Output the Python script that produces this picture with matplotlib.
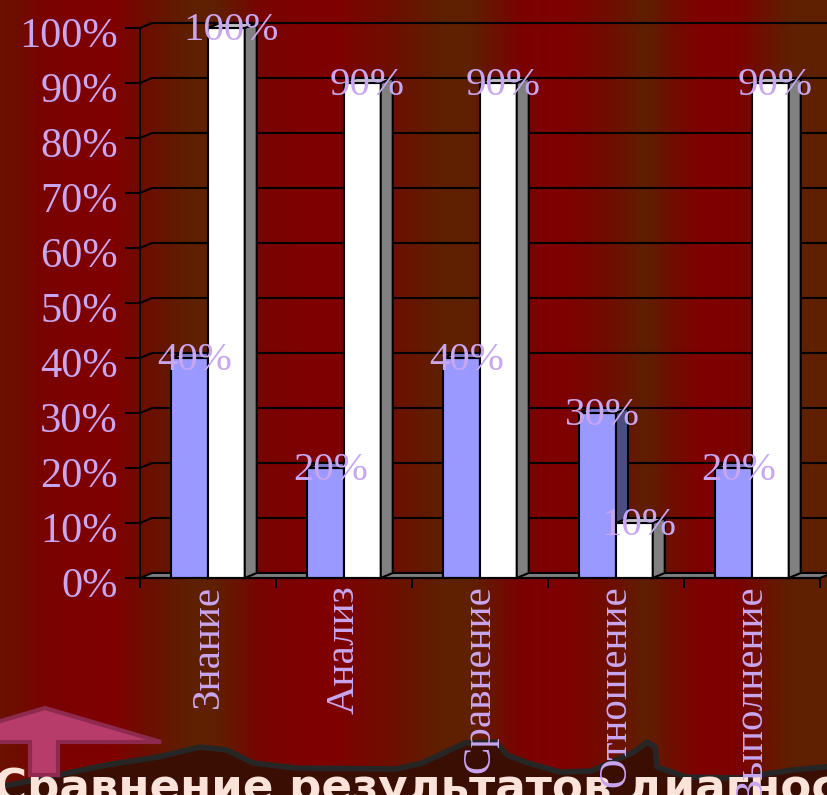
import matplotlib
matplotlib.use('Agg')
import matplotlib.pyplot as plt
import matplotlib.transforms as mtransforms
import numpy as np
from matplotlib.patches import Polygon
from matplotlib.colors import to_rgb

# ---------------- data ----------------
categories = ['Знание', 'Анализ', 'Сравнение', 'Отношение', 'Выполнение']
series_before = [40, 20, 40, 30, 20]
series_after = [100, 90, 90, 10, 90]
yticks = [0, 10, 20, 30, 40, 50, 60, 70, 80, 90, 100]
ytick_labels = [f'{v}%' for v in yticks]
title_text = 'Сравнение результатов диагностики'

# ---------------- style ----------------
W, H = 828, 795
LAV = '#C9A6F0'
SERIF = 'Liberation Serif'
BLUE, BLUE_SIDE, BLUE_TOP = '#9999FF', '#4D4D80', '#7A7AC8'
WHITE, WHITE_SIDE, WHITE_TOP = '#FFFFFF', '#808080', '#C0C0C0'
DX, DY = 12, 5          # 3-D depth in pixels
BW = 0.27               # bar width (category units)

fig = plt.figure(figsize=(W / 100, H / 100), dpi=100)

# background with vertical stripes
bg = fig.add_axes([0, 0, 1, 1], zorder=-10)
stops = [(0, '#6A1200'), (40, '#780400'), (110, '#800000'), (150, '#6A1000'),
         (190, '#5E2000'), (215, '#5E2000'), (260, '#780400'), (330, '#800000'),
         (400, '#6A1200'), (440, '#5E2000'), (470, '#5E2000'), (520, '#7A0200'),
         (560, '#800000'), (610, '#6E0E00'), (645, '#5E2000'), (665, '#6A1200'),
         (700, '#800000'), (740, '#7A0400'), (790, '#5E2000'), (828, '#5E2000')]
xs = np.arange(W)
pos = [p for p, _ in stops]
cols = np.array([to_rgb(c) for _, c in stops])
img = np.stack([np.interp(xs, pos, cols[:, k]) for k in range(3)], axis=-1)[None, :, :]
bg.imshow(img, aspect='auto', extent=[0, W, 0, H])
bg.set_axis_off()

# decorations (hill, arrow, title) in pixel coordinates
deco = fig.add_axes([0, 0, 1, 1], zorder=-5)
deco.set_xlim(0, W)
deco.set_ylim(H, 0)
deco.set_axis_off()
hill = [(0, 787), (106, 765), (158, 757), (200, 747), (227, 750), (253, 763),
        (296, 768), (396, 769), (422, 763), (465, 743), (496, 742), (507, 755),
        (528, 763), (560, 772), (591, 771), (634, 752), (647, 742), (655, 747),
        (657, 767), (686, 777), (739, 778), (792, 770), (835, 766),
        (835, 800), (-5, 800)]
deco.add_patch(Polygon(hill, closed=True, fc='#3A0E03', ec='#262626', lw=4, joinstyle='round'))
arrow = [(-71, 742), (45, 708), (161, 742), (58, 742), (58, 775), (30, 775), (30, 742)]
deco.add_patch(Polygon(arrow, closed=True, fc='#B83C6A', ec='#8E2A4E', lw=3))
deco.text(-6, 801, title_text, fontsize=32.5, weight='bold', color='#FBE3D9',
          family='DejaVu Sans', ha='left', va='baseline')

# main chart
ax = fig.add_axes([140 / W, (H - 578) / H, 680 / W, 550 / H])
ax.set_xlim(-0.5, 4.5)
ax.set_ylim(0, 100)
ax.patch.set_visible(False)
for s in ['top', 'right']:
    ax.spines[s].set_visible(False)
for s in ['left', 'bottom']:
    ax.spines[s].set_color('black')
    ax.spines[s].set_linewidth(1.5)
    ax.spines[s].set_zorder(6)


def shift(x, y, dx=DX, dy=DY):
    p = ax.transData.transform((x, y))
    return tuple(ax.transData.inverted().transform((p[0] + dx, p[1] + dy)))


# gridlines on back wall
for v in yticks[1:]:
    pts = [(-0.5, v), shift(-0.5, v), shift(4.6, v)]
    ax.plot(*zip(*pts), color='black', lw=1.5, zorder=1, clip_on=False, solid_capstyle='butt')

# floor
floor = [(-0.5, 0), (4.5, 0), shift(4.5, 0), shift(-0.5, 0)]
ax.add_patch(Polygon(floor, closed=True, fc='#808080', ec='black', lw=1.5, zorder=2, clip_on=False))

x = np.arange(len(categories))


def bars3d(xc, vals, front, side, top, z):
    ax.bar(xc, vals, BW, color=front, edgecolor='black', lw=1.5, zorder=z)
    for xi, v in zip(xc, vals):
        x0, x1 = xi - BW / 2, xi + BW / 2
        ax.add_patch(Polygon([(x1, 0), (x1, v), shift(x1, v), shift(x1, 0)], closed=True,
                             fc=side, ec='black', lw=1.5, zorder=z + 0.5, clip_on=False))
        ax.add_patch(Polygon([(x0, v), (x1, v), shift(x1, v), shift(x0, v)], closed=True,
                             fc=top, ec='black', lw=1.5, zorder=z + 0.5, clip_on=False))


bars3d(x - BW / 2, series_before, BLUE, BLUE_SIDE, BLUE_TOP, 3)
bars3d(x + BW / 2, series_after, WHITE, WHITE_SIDE, WHITE_TOP, 4)

for xc, vals in [(x - BW / 2, series_before), (x + BW / 2, series_after)]:
    for xi, v in zip(xc, vals):
        ax.annotate(f'{v}%', (xi, v), xytext=(5, -12), textcoords='offset pixels',
                    ha='center', va='baseline', fontsize=29.5, color=LAV, family=SERIF,
                    zorder=10, annotation_clip=False)

ax.set_yticks(yticks, ytick_labels)
ax.tick_params(axis='y', length=10.8, width=1.5, color='black', pad=5,
               labelsize=30.5, labelcolor=LAV, direction='out')
ydown = mtransforms.ScaledTranslation(0, -3 / 72, fig.dpi_scale_trans)
for t in ax.get_yticklabels():
    t.set_family(SERIF)
    t.set_transform(t.get_transform() + ydown)

ax.set_xticks(x, categories, rotation=90)
ax.set_xticks(np.arange(-0.5, 5, 1), minor=True)
ax.tick_params(axis='x', which='major', length=0, pad=5, labelsize=29.5, labelcolor=LAV)
ax.tick_params(axis='x', which='minor', length=7.5, width=1.5, color='black', direction='out')
for t in ax.get_xticklabels():
    t.set_family(SERIF)
    t.set_va('top')

fig.savefig('out.png', dpi=100)
